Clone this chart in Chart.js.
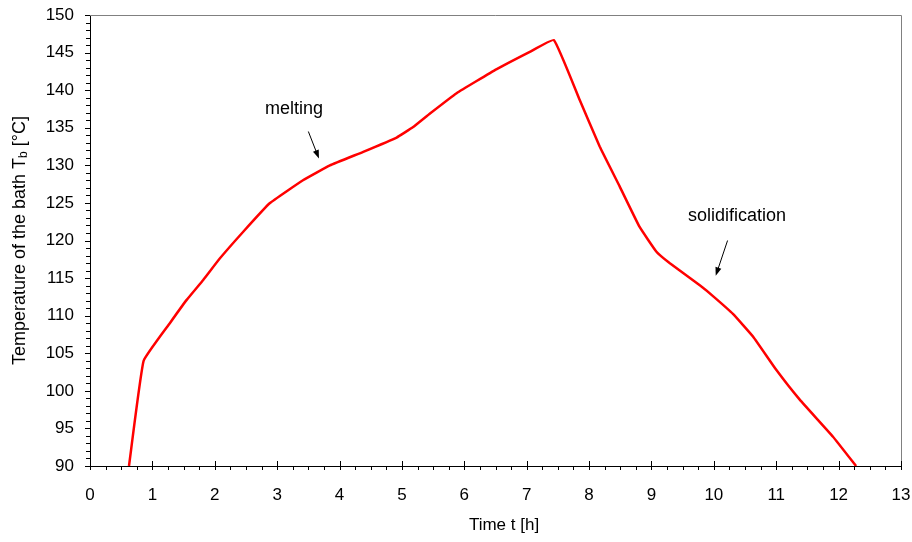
<!DOCTYPE html>
<html>
<head>
<meta charset="utf-8">
<title>Bath temperature</title>
<script src="https://cdn.jsdelivr.net/npm/chart.js@4/dist/chart.umd.min.js"></script>
<style>
  html, body { margin: 0; padding: 0; background: #fff; }
  #wrap { width: 912px; height: 542px; }
</style>
</head>
<body>
<div id="wrap"><canvas id="chart" width="912" height="542"></canvas></div>
<script>
// ── Data ────────────────────────────────────────────────────────────────────

const timeH = [0.625, 0.86, 1.28, 1.55, 1.815, 2.08, 2.46, 2.88, 3.42,
  3.846, 4.38, 4.915, 5.18, 5.45, 5.877, 6.52, 7.05, 7.436,
  7.85, 8.17, 8.49, 8.81, 9.08, 9.29, 9.78, 10.0, 10.31, 10.63, 11.0, 11.38, 11.91, 12.28];
const bathTemp = [90, 104.0, 109.0, 112.1, 114.75, 117.6, 121.2, 124.95, 128.05,
  130.0, 131.8, 133.7, 135.1, 136.9, 139.6, 142.8, 145.1, 146.67,
  138.7, 132.5, 127.2, 121.8, 118.5, 117.0, 114.0, 112.5, 110.2, 107.2, 102.8, 98.8, 93.9, 90];

const xTicks = [0, 1, 2, 3, 4, 5, 6, 7, 8, 9, 10, 11, 12, 13];
const yTicks = [90, 95, 100, 105, 110, 115, 120, 125, 130, 135, 140, 145, 150];

const notes = [
  { text: 'melting',        tx: 3.27,  ty: 137.5, ax: 3.50,  ay: 134.5, bx: 3.67,  by: 130.9 },
  { text: 'solidification', tx: 10.37, ty: 123.2, ax: 10.22, ay: 120.0, bx: 10.03, by: 115.3 },
];

const FONT = '"Liberation Sans", Arial, sans-serif';

// ── Decorations: frame, ticks, titles, annotations ──────────────────────────

const decor = {
  id: 'decor',
  afterDraw(chart) {
    const { ctx, chartArea: a, scales: { x, y } } = chart;
    ctx.save();

    // grey frame top/right
    ctx.strokeStyle = '#808080';
    ctx.lineWidth = 1;
    ctx.beginPath();
    ctx.moveTo(a.left, a.top + 0.5);
    ctx.lineTo(a.right + 0.5, a.top + 0.5);
    ctx.lineTo(a.right + 0.5, a.bottom);
    ctx.stroke();

    // tick marks
    ctx.strokeStyle = '#000';
    ctx.beginPath();
    for (let v = 0; v <= 13.001; v += 0.25) {
      const px = Math.round(x.getPixelForValue(v)) + 0.5;
      const major = Math.abs(v - Math.round(v)) < 1e-6;
      ctx.moveTo(px, major ? a.bottom - 5 : a.bottom);
      ctx.lineTo(px, a.bottom + 4);
    }
    for (let v = 90; v <= 150; v += 1) {
      const py = Math.round(y.getPixelForValue(v)) + 0.5;
      ctx.moveTo(a.left - (v % 5 === 0 ? 5 : 4), py);
      ctx.lineTo(a.left, py);
    }
    ctx.stroke();

    ctx.fillStyle = '#000';

    // x title
    ctx.font = '17px ' + FONT;
    ctx.textAlign = 'center';
    ctx.textBaseline = 'middle';
    ctx.fillText('Time t [h]', 504, 525);

    // y title with subscript
    const p1 = 'Temperature of the bath T', p2 = 'b', p3 = ' [°C]';
    ctx.translate(20, (a.top + a.bottom) / 2);
    ctx.rotate(-Math.PI / 2);
    ctx.textAlign = 'left';
    ctx.font = '18px ' + FONT;
    const w1 = ctx.measureText(p1).width, w3 = ctx.measureText(p3).width;
    ctx.font = '12px ' + FONT;
    const w2 = ctx.measureText(p2).width;
    let cx = -(w1 + w2 + w3) / 2;
    ctx.font = '18px ' + FONT;
    ctx.fillText(p1, cx, 0); cx += w1;
    ctx.font = '12px ' + FONT;
    ctx.fillText(p2, cx, 4); cx += w2;
    ctx.font = '18px ' + FONT;
    ctx.fillText(p3, cx, 0);
    ctx.setTransform(1, 0, 0, 1, 0, 0);

    // annotations
    ctx.font = '18px ' + FONT;
    ctx.textAlign = 'center';
    ctx.textBaseline = 'middle';
    notes.forEach(n => {
      ctx.fillText(n.text, x.getPixelForValue(n.tx), y.getPixelForValue(n.ty));
      const x0 = x.getPixelForValue(n.ax), y0 = y.getPixelForValue(n.ay);
      const x1 = x.getPixelForValue(n.bx), y1 = y.getPixelForValue(n.by);
      const ang = Math.atan2(y1 - y0, x1 - x0);
      ctx.lineWidth = 1;
      ctx.beginPath();
      ctx.moveTo(x0, y0);
      ctx.lineTo(x1 - 6 * Math.cos(ang), y1 - 6 * Math.sin(ang));
      ctx.stroke();
      ctx.beginPath();
      ctx.moveTo(x1, y1);
      ctx.lineTo(x1 - 9 * Math.cos(ang - 0.35), y1 - 9 * Math.sin(ang - 0.35));
      ctx.lineTo(x1 - 9 * Math.cos(ang + 0.35), y1 - 9 * Math.sin(ang + 0.35));
      ctx.closePath();
      ctx.fill();
    });

    ctx.restore();
  },
};

// ── Chart ───────────────────────────────────────────────────────────────────

new Chart(document.getElementById('chart'), {
  type: 'line',
  data: {
    datasets: [{
      data: timeH.map((t, i) => ({ x: t, y: bathTemp[i] })),
      borderColor: '#ff0000',
      borderWidth: 2.5,
      pointRadius: 0,
      tension: 0.1,
      fill: false,
    }],
  },
  options: {
    responsive: false,
    animation: false,
    layout: { padding: { left: 0, top: 15, right: 11, bottom: 0 } },
    plugins: { legend: { display: false }, tooltip: { enabled: false } },
    scales: {
      x: {
        type: 'linear', min: 0, max: 13,
        afterBuildTicks: s => { s.ticks = xTicks.map(v => ({ value: v })); },
        afterFit: s => { s.height = 76; s.paddingLeft = 0; s.paddingRight = 0; },
        grid: { display: false, drawTicks: false },
        border: { display: true, color: '#000', width: 1 },
        ticks: { color: '#000', padding: 19, font: { family: FONT, size: 17 } },
      },
      y: {
        type: 'linear', min: 90, max: 150,
        afterBuildTicks: s => { s.ticks = yTicks.map(v => ({ value: v })); },
        afterFit: s => { s.width = 90; s.paddingTop = 0; s.paddingBottom = 0; },
        grid: { display: false, drawTicks: false },
        border: { display: true, color: '#000', width: 1 },
        ticks: { color: '#000', padding: 16, font: { family: FONT, size: 17 } },
      },
    },
  },
  plugins: [decor],
});
</script>
</body>
</html>
